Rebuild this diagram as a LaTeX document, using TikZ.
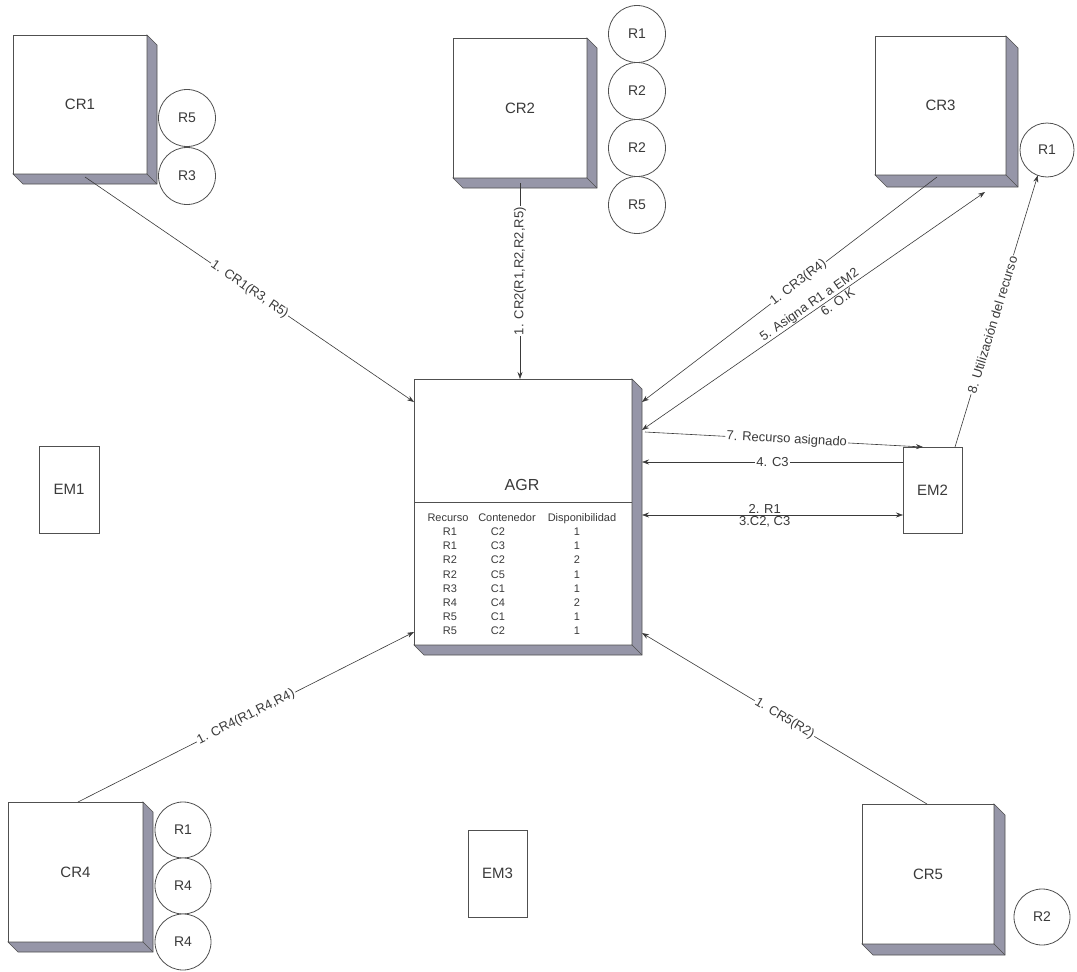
\documentclass[tikz,border=0pt]{standalone}
\usepackage{fontspec}
\setmainfont{Liberation Sans}
\usetikzlibrary{calc,arrows.meta}
\definecolor{edge}{HTML}{505050}
\definecolor{shade}{HTML}{9696A8}
\definecolor{ink}{HTML}{3A3A3A}
\tikzset{
 box/.style={draw=edge, line width=0.9pt, fill=white, inner sep=0pt, outer sep=0pt, text=ink, font=\fontsize{15}{16}\selectfont},
 res/.style={circle, draw=edge, line width=0.8pt, fill=white, inner sep=0pt, outer sep=0pt, minimum size=57pt, text=ink, font=\fontsize{14}{15}\selectfont},
 conn/.style={draw=ink, line width=0.6pt},
 arr/.style={conn, -{Stealth[length=7pt,width=5pt]}},
 arr2/.style={conn, {Stealth[length=7pt,width=5pt]}-{Stealth[length=7pt,width=5pt]}},
 lab/.style={fill=white, inner sep=1.2pt, text=ink, font=\fontsize{13}{14}\selectfont},
 labn/.style={inner sep=1.2pt, text=ink, font=\fontsize{13}{14}\selectfont},
 tab/.style={text=ink, font=\fontsize{11}{12}\selectfont, inner sep=0pt, anchor=base},
}
\newcommand{\extrude}[2]{%
 \filldraw[fill=shade, draw=edge, line width=0.6pt] (#1.north east) -- ++(#2,#2) -- ($(#1.south east)+(#2,#2)$) -- ($(#1.south west)+(#2,#2)$) -- (#1.south west) -- (#1.south east) -- cycle;
 \draw[edge, line width=0.6pt] (#1.south east) -- ++(#2,#2);}
\begin{document}
\begin{tikzpicture}[x=1pt,y=-1pt]
\useasboundingbox (0,0) rectangle (1077,972);
\fill[white] (0,0) rectangle (1077,972);

% containers
\node[box, minimum width=134pt, minimum height=139pt] (CR1) at (80,104.5) {CR1};
\node[box, minimum width=134pt, minimum height=140pt] (CR2) at (520,108) {CR2};
\node[box, minimum width=131pt, minimum height=139pt] (CR3) at (940.5,105.5) {CR3};
\node[box, minimum width=135pt, minimum height=140pt] (CR4) at (75.5,872) {CR4};
\node[box, minimum width=132pt, minimum height=140pt] (CR5) at (928,874) {CR5};
\extrude{CR1}{10}
\extrude{CR2}{10}
\extrude{CR3}{12}
\extrude{CR4}{10}
\extrude{CR5}{11}

% AGR
\node[box, minimum width=218pt, minimum height=266pt] (AGR) at (523,512) {};
\extrude{AGR}{10}
\draw[edge, line width=0.8pt] ($(AGR.north west)+(0,123)$) coordinate (dl) -- (dl -| AGR.east);
\node[text=ink, font=\fontsize{16}{17}\selectfont] (agrl) at (522,485) {AGR};
\node[tab] (h1) at (448,521) {Recurso};
\node[tab] (h2) at (507,521) {Contenedor};
\node[tab] (h3) at (582,521) {Disponibilidad};
\foreach \r/\c/\d [count=\i from 0] in {R1/C2/1,R1/C3/1,R2/C2/2,R2/C5/1,R3/C1/1,R4/C4/2,R5/C1/1,R5/C2/1}{
  \node[tab] (ta\i) at (450,{535.5+14.2*\i}) {\r};
  \node[tab] (tb\i) at (498,{535.5+14.2*\i}) {\c};
  \node[tab] (tc\i) at (577,{535.5+14.2*\i}) {\d};
}

% EM boxes
\node[box, minimum width=60pt, minimum height=87pt] (EM1) at (69,489.5) {EM1};
\node[box, minimum width=59pt, minimum height=86pt] (EM2) at (932.5,490) {EM2};
\node[box, minimum width=59pt, minimum height=87pt] (EM3) at (497.5,873.5) {EM3};

% resources
\node[res] (r1a) at (187,118) {R5};
\node[res] (r1b) at (187,176) {R3};
\node[res] (r2a) at (637,34) {R1};
\node[res] (r2b) at (637,91) {R2};
\node[res] (r2c) at (637,148) {R2};
\node[res] (r2d) at (637,205) {R5};
\node[res, minimum size=54pt] (r3a) at (1047,150) {R1};
\node[res, minimum size=56pt] (r4a) at (183,830) {R1};
\node[res, minimum size=56pt] (r4b) at (183,886) {R4};
\node[res, minimum size=56pt] (r4c) at (183,942) {R4};
\node[res, minimum size=56pt] (r5a) at (1042,917) {R2};

% connectors
\coordinate (a1) at ($(CR1.south west)+(72,3)$);
\coordinate (b1) at ($(AGR.north west)+(0,23)$);
\draw[arr] (a1) -- node[lab, pos=0.5, rotate=-34.4] {1. CR1(R3, R5)} (b1);

\coordinate (a2) at ($(CR2.south)+(0,5)$);
\coordinate (b2) at ($(AGR.north west)+(106,0)$);
\draw[arr] (a2) -- node[lab, pos=0.45, rotate=90] {1. CR2(R1,R2,R2,R5)} (b2);

\coordinate (a3) at ($(CR3.south west)+(62,2)$);
\coordinate (b3) at ($(AGR.north east)+(10,23)$);
\draw[arr] (a3) -- node[lab, pos=0.47, rotate=37.3] {1. CR3(R4)} (b3);

\coordinate (a5) at ($(AGR.north east)+(10,51)$);
\coordinate (b5) at ($(CR3.south east)+(-21,17)$);
\draw[arr2] (a5) -- node[labn, pos=0.5, anchor=south, rotate=34.8, inner sep=0.5pt] {5. Asigna R1 a EM2}
  node[labn, pos=0.56, anchor=north, rotate=34.8] {6. O.K} (b5);

\coordinate (a7) at ($(AGR.north east)+(13,53)$);
\coordinate (b7) at ($(EM2.north west)+(20,0)$);
\draw[arr] (a7) -- node[lab, pos=0.51, rotate=-3.1] {7. Recurso asignado} (b7);

\coordinate (a4) at ($(EM2.west)+(0,-28)$);
\coordinate (b4) at ($(AGR.north east)+(10,83)$);
\draw[arr] (a4) -- node[lab, pos=0.5] {4. C3} (b4);

\coordinate (a6) at ($(AGR.north east)+(10,136)$);
\coordinate (b6) at ($(EM2.west)+(0,25)$);
\draw[arr2] (a6) -- node[labn, pos=0.47, anchor=south] {2. R1}
  node[labn, pos=0.47, anchor=north] {3.C2, C3} (b6);

\coordinate (a8) at ($(EM2.north east)+(-7,0)$);
\draw[arr] (a8) -- node[lab, pos=0.45, rotate=73] {8. Utilización del recurso} (r3a.250);

\coordinate (a9) at ($(CR4.north west)+(70,0)$);
\coordinate (b9) at ($(AGR.south west)+(0,-13)$);
\draw[arr] (a9) -- node[lab, pos=0.5, rotate=26.8] {1. CR4(R1,R4,R4)} (b9);

\coordinate (a10) at ($(CR5.north west)+(65,0)$);
\coordinate (b10) at ($(AGR.south east)+(10,-12)$);
\draw[arr] (a10) -- node[lab, pos=0.5, rotate=-31] {1. CR5(R2)} (b10);
\end{tikzpicture}
\end{document}
